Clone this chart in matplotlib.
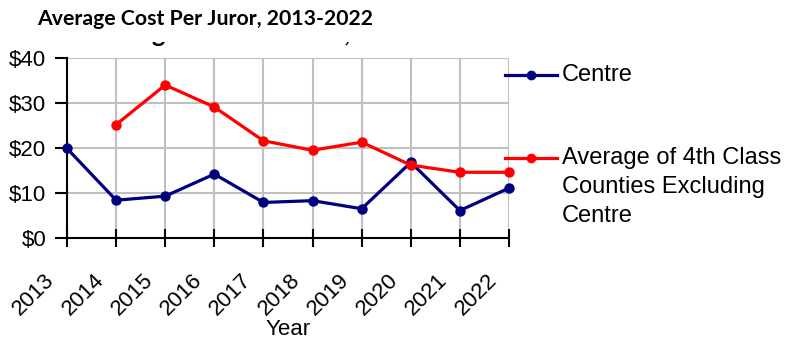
import matplotlib
matplotlib.use("Agg")
import matplotlib.pyplot as plt
import matplotlib.transforms as mtransforms
from matplotlib.lines import Line2D

years = [2013, 2014, 2015, 2016, 2017, 2018, 2019, 2020, 2021, 2022]
centre = [19.9, 8.4, 9.3, 14.2, 7.9, 8.3, 6.5, 16.8, 6.1, 11.1]
avg_years = years[1:]
avg_4th_class = [25.2, 34.0, 29.1, 21.6, 19.5, 21.3, 16.2, 14.6, 14.6]
y_ticks = [0, 10, 20, 30, 40]

title = "Average Cost Per Juror, 2013-2022"
navy = "#000080"
red = "#ff0000"

plt.rcParams["font.family"] = ["Liberation Sans", "DejaVu Sans"]

fig = plt.figure(figsize=(7.86, 3.41), dpi=100)
W, H = 786, 341
ax = fig.add_axes([67 / W, 1 - 238 / H, (509 - 67) / W, (238 - 58) / H])

ax.plot(years, centre, color=navy, lw=2.3, marker="o", ms=6.5, zorder=3, clip_on=False)
ax.plot(avg_years, avg_4th_class, color=red, lw=2.3, marker="o", ms=6.5, zorder=4, clip_on=False)

ax.set_xlim(2013, 2022)
ax.set_ylim(0, 40)
ax.set_xticks(years)
ax.set_xticklabels([str(y) for y in years], rotation=45, ha="right", va="top", fontsize=16)
ax.set_yticks(y_ticks)
ax.set_yticklabels(["$%d" % v for v in y_ticks], fontsize=16)
ax.tick_params(axis="x", direction="inout", length=13, width=1.5, pad=16)
ax.tick_params(axis="y", direction="out", length=9, width=1.5, pad=6)
# nudge the rotated year labels left so their top corner sits left of the tick
shift = mtransforms.ScaledTranslation(-8 / 100, 0, fig.dpi_scale_trans)
for lbl in ax.get_xticklabels():
    lbl.set_transform(lbl.get_transform() + shift)
ax.grid(True, color="#c0c0c0", lw=1.5)
ax.set_axisbelow(True)
for s in ["top", "right"]:
    ax.spines[s].set_visible(False)
for s in ["left", "bottom"]:
    ax.spines[s].set_linewidth(1.5)
ax.set_xlabel("Year", fontsize=16, labelpad=0)

# hand-built legend on the right
fig.add_artist(Line2D([505 / W, 557 / W], [1 - 75 / H] * 2, color=navy, lw=2.3))
fig.add_artist(Line2D([531 / W], [1 - 75 / H], color=navy, marker="o", ms=6))
fig.text(562 / W, 1 - 75 / H, "Centre", fontsize=17, va="center")
fig.add_artist(Line2D([505 / W, 557 / W], [1 - 158 / H] * 2, color=red, lw=2.3))
fig.add_artist(Line2D([531 / W], [1 - 158 / H], color=red, marker="o", ms=6))
fig.text(562 / W, 1 - 158 / H, "Average of 4th Class", fontsize=17, va="center")
fig.text(562 / W, 1 - 187 / H, "Counties Excluding", fontsize=17, va="center")
fig.text(562 / W, 1 - 216 / H, "Centre", fontsize=17, va="center")

# older title, only its bottom edge left showing
old = fig.text(284 / W, 1 - 42 / H, title, fontsize=18, fontweight="bold", family="Lato",
               ha="center", va="baseline")
old.set_clip_box(mtransforms.Bbox.from_extents(0, 0, W, H - 42))
old.set_clip_on(True)
fig.text(37 / W, 1 - 25 / H, title, fontsize=15.3, fontweight="bold", family="Lato",
         ha="left", va="baseline")

fig.savefig("out.png", dpi=100)
